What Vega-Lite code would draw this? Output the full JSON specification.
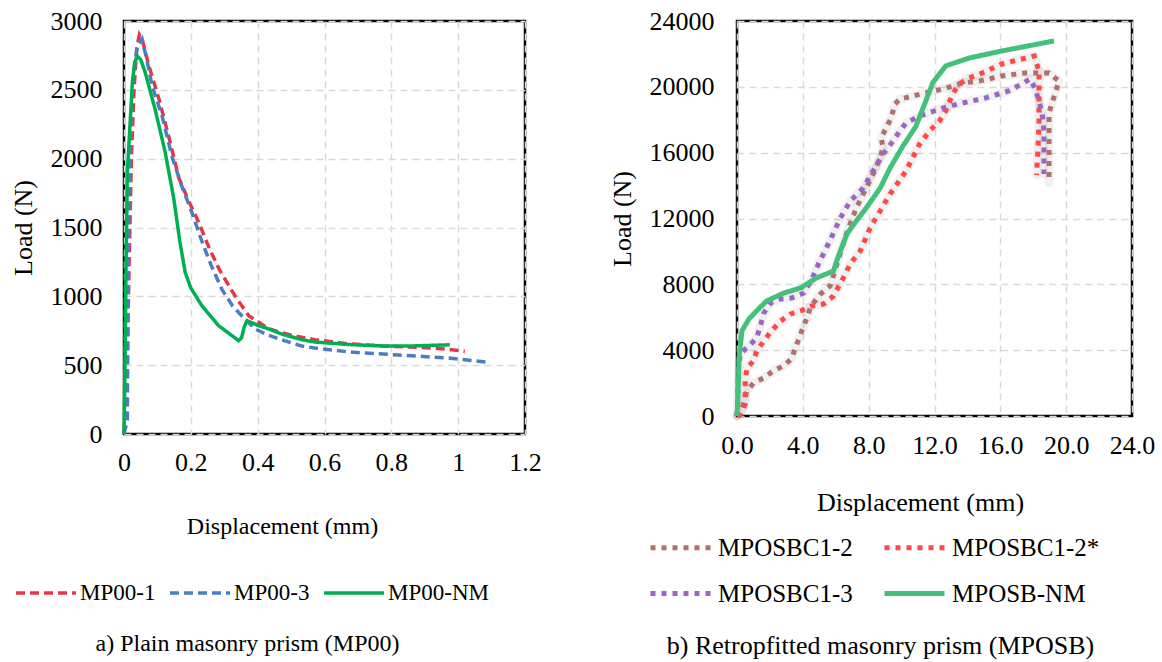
{
  "$schema": "https://vega.github.io/schema/vega-lite/v6.json",
  "background": "white",
  "padding": {"left": 8, "top": 6, "right": 5, "bottom": 2},
  "spacing": 64,
  "config": {
    "font": "Liberation Serif",
    "view": {"stroke": "black", "strokeWidth": 2.5},
    "axis": {
      "grid": true, "gridColor": "#D9D9D9", "gridDash": [7, 5], "gridWidth": 1.5,
      "domain": false, "ticks": false, "labelFlush": false, "labelOverlap": false,
      "labelFont": "Liberation Serif", "titleFont": "Liberation Serif",
      "labelColor": "black", "titleColor": "black",
      "labelFontSize": 26, "titleFontSize": 24, "titleFontWeight": "normal"
    },
    "legend": {"padding": 0, "labelFont": "Liberation Serif", "labelColor": "black", "labelLimit": 0},
    "title": {"font": "Liberation Serif", "fontWeight": "normal", "color": "black"}
  },
  "datasets": {
    "mp00": [
      {"s": "MP00-1", "i": 1, "x": 0, "y": 0},
      {"s": "MP00-1", "i": 2, "x": 0.008, "y": 300},
      {"s": "MP00-1", "i": 3, "x": 0.015, "y": 1200},
      {"s": "MP00-1", "i": 4, "x": 0.022, "y": 2000},
      {"s": "MP00-1", "i": 5, "x": 0.03, "y": 2500},
      {"s": "MP00-1", "i": 6, "x": 0.038, "y": 2800},
      {"s": "MP00-1", "i": 7, "x": 0.046, "y": 2900},
      {"s": "MP00-1", "i": 8, "x": 0.055, "y": 2860},
      {"s": "MP00-1", "i": 9, "x": 0.075, "y": 2670},
      {"s": "MP00-1", "i": 10, "x": 0.105, "y": 2430},
      {"s": "MP00-1", "i": 11, "x": 0.135, "y": 2150},
      {"s": "MP00-1", "i": 12, "x": 0.164, "y": 1860},
      {"s": "MP00-1", "i": 13, "x": 0.194, "y": 1690},
      {"s": "MP00-1", "i": 14, "x": 0.225, "y": 1530},
      {"s": "MP00-1", "i": 15, "x": 0.255, "y": 1350},
      {"s": "MP00-1", "i": 16, "x": 0.284, "y": 1200},
      {"s": "MP00-1", "i": 17, "x": 0.333, "y": 1000},
      {"s": "MP00-1", "i": 18, "x": 0.373, "y": 860},
      {"s": "MP00-1", "i": 19, "x": 0.433, "y": 765},
      {"s": "MP00-1", "i": 20, "x": 0.472, "y": 735},
      {"s": "MP00-1", "i": 21, "x": 0.512, "y": 712},
      {"s": "MP00-1", "i": 22, "x": 0.571, "y": 685},
      {"s": "MP00-1", "i": 23, "x": 0.672, "y": 655},
      {"s": "MP00-1", "i": 24, "x": 0.77, "y": 640},
      {"s": "MP00-1", "i": 25, "x": 0.92, "y": 625},
      {"s": "MP00-1", "i": 26, "x": 0.97, "y": 615},
      {"s": "MP00-1", "i": 27, "x": 1.02, "y": 600},
      {"s": "MP00-3", "i": 1, "x": 0, "y": 0},
      {"s": "MP00-3", "i": 2, "x": 0.01, "y": 100},
      {"s": "MP00-3", "i": 3, "x": 0.012, "y": 1000},
      {"s": "MP00-3", "i": 4, "x": 0.015, "y": 1800},
      {"s": "MP00-3", "i": 5, "x": 0.02, "y": 2250},
      {"s": "MP00-3", "i": 6, "x": 0.028, "y": 2600},
      {"s": "MP00-3", "i": 7, "x": 0.04, "y": 2820},
      {"s": "MP00-3", "i": 8, "x": 0.054, "y": 2870},
      {"s": "MP00-3", "i": 9, "x": 0.07, "y": 2700},
      {"s": "MP00-3", "i": 10, "x": 0.084, "y": 2530},
      {"s": "MP00-3", "i": 11, "x": 0.114, "y": 2310},
      {"s": "MP00-3", "i": 12, "x": 0.143, "y": 2020},
      {"s": "MP00-3", "i": 13, "x": 0.173, "y": 1800},
      {"s": "MP00-3", "i": 14, "x": 0.203, "y": 1610},
      {"s": "MP00-3", "i": 15, "x": 0.233, "y": 1400},
      {"s": "MP00-3", "i": 16, "x": 0.26, "y": 1230},
      {"s": "MP00-3", "i": 17, "x": 0.293, "y": 1050},
      {"s": "MP00-3", "i": 18, "x": 0.325, "y": 930},
      {"s": "MP00-3", "i": 19, "x": 0.353, "y": 857},
      {"s": "MP00-3", "i": 20, "x": 0.392, "y": 763},
      {"s": "MP00-3", "i": 21, "x": 0.43, "y": 720},
      {"s": "MP00-3", "i": 22, "x": 0.482, "y": 676},
      {"s": "MP00-3", "i": 23, "x": 0.532, "y": 639},
      {"s": "MP00-3", "i": 24, "x": 0.571, "y": 625},
      {"s": "MP00-3", "i": 25, "x": 0.672, "y": 596},
      {"s": "MP00-3", "i": 26, "x": 0.82, "y": 574},
      {"s": "MP00-3", "i": 27, "x": 0.97, "y": 552},
      {"s": "MP00-3", "i": 28, "x": 1.085, "y": 523},
      {"s": "MP00-NM", "i": 1, "x": 0, "y": 0},
      {"s": "MP00-NM", "i": 2, "x": 0.003, "y": 500},
      {"s": "MP00-NM", "i": 3, "x": 0.006, "y": 1200},
      {"s": "MP00-NM", "i": 4, "x": 0.01, "y": 1900},
      {"s": "MP00-NM", "i": 5, "x": 0.018, "y": 2250},
      {"s": "MP00-NM", "i": 6, "x": 0.025, "y": 2550},
      {"s": "MP00-NM", "i": 7, "x": 0.032, "y": 2700},
      {"s": "MP00-NM", "i": 8, "x": 0.04, "y": 2745},
      {"s": "MP00-NM", "i": 9, "x": 0.05, "y": 2720},
      {"s": "MP00-NM", "i": 10, "x": 0.063, "y": 2630},
      {"s": "MP00-NM", "i": 11, "x": 0.093, "y": 2360},
      {"s": "MP00-NM", "i": 12, "x": 0.123, "y": 2050},
      {"s": "MP00-NM", "i": 13, "x": 0.149, "y": 1710},
      {"s": "MP00-NM", "i": 14, "x": 0.167, "y": 1400},
      {"s": "MP00-NM", "i": 15, "x": 0.183, "y": 1175},
      {"s": "MP00-NM", "i": 16, "x": 0.2, "y": 1060},
      {"s": "MP00-NM", "i": 17, "x": 0.233, "y": 932},
      {"s": "MP00-NM", "i": 18, "x": 0.283, "y": 787},
      {"s": "MP00-NM", "i": 19, "x": 0.32, "y": 720},
      {"s": "MP00-NM", "i": 20, "x": 0.343, "y": 678},
      {"s": "MP00-NM", "i": 21, "x": 0.352, "y": 700},
      {"s": "MP00-NM", "i": 22, "x": 0.36, "y": 780},
      {"s": "MP00-NM", "i": 23, "x": 0.368, "y": 823},
      {"s": "MP00-NM", "i": 24, "x": 0.4, "y": 790},
      {"s": "MP00-NM", "i": 25, "x": 0.433, "y": 763},
      {"s": "MP00-NM", "i": 26, "x": 0.472, "y": 726},
      {"s": "MP00-NM", "i": 27, "x": 0.532, "y": 685},
      {"s": "MP00-NM", "i": 28, "x": 0.572, "y": 668},
      {"s": "MP00-NM", "i": 29, "x": 0.672, "y": 650},
      {"s": "MP00-NM", "i": 30, "x": 0.771, "y": 640},
      {"s": "MP00-NM", "i": 31, "x": 0.87, "y": 640},
      {"s": "MP00-NM", "i": 32, "x": 0.975, "y": 648}
    ],
    "mposb": [
      {"s": "MPOSBC1-2", "i": 1, "d": 0, "load": 0},
      {"s": "MPOSBC1-2", "i": 2, "d": 0.2, "load": 100},
      {"s": "MPOSBC1-2", "i": 3, "d": 0.6, "load": 1500},
      {"s": "MPOSBC1-2", "i": 4, "d": 1.0, "load": 2000},
      {"s": "MPOSBC1-2", "i": 5, "d": 1.6, "load": 2300},
      {"s": "MPOSBC1-2", "i": 6, "d": 2.2, "load": 2730},
      {"s": "MPOSBC1-2", "i": 7, "d": 2.8, "load": 3040},
      {"s": "MPOSBC1-2", "i": 8, "d": 3.3, "load": 3460},
      {"s": "MPOSBC1-2", "i": 9, "d": 3.55, "load": 4130},
      {"s": "MPOSBC1-2", "i": 10, "d": 3.86, "load": 4980},
      {"s": "MPOSBC1-2", "i": 11, "d": 4.17, "load": 5770},
      {"s": "MPOSBC1-2", "i": 12, "d": 4.5, "load": 6680},
      {"s": "MPOSBC1-2", "i": 13, "d": 5.07, "load": 7410},
      {"s": "MPOSBC1-2", "i": 14, "d": 5.66, "load": 7900},
      {"s": "MPOSBC1-2", "i": 15, "d": 6.26, "load": 9830},
      {"s": "MPOSBC1-2", "i": 16, "d": 6.64, "load": 11060},
      {"s": "MPOSBC1-2", "i": 17, "d": 7.25, "load": 12640},
      {"s": "MPOSBC1-2", "i": 18, "d": 7.85, "load": 13850},
      {"s": "MPOSBC1-2", "i": 19, "d": 8.45, "load": 15070},
      {"s": "MPOSBC1-2", "i": 20, "d": 8.88, "load": 16280},
      {"s": "MPOSBC1-2", "i": 21, "d": 8.76, "load": 16890},
      {"s": "MPOSBC1-2", "i": 22, "d": 9.06, "load": 17500},
      {"s": "MPOSBC1-2", "i": 23, "d": 9.36, "load": 18100},
      {"s": "MPOSBC1-2", "i": 24, "d": 9.6, "load": 18960},
      {"s": "MPOSBC1-2", "i": 25, "d": 9.9, "load": 19260},
      {"s": "MPOSBC1-2", "i": 26, "d": 10.7, "load": 19440},
      {"s": "MPOSBC1-2", "i": 27, "d": 11.3, "load": 19600},
      {"s": "MPOSBC1-2", "i": 28, "d": 12.5, "load": 19870},
      {"s": "MPOSBC1-2", "i": 29, "d": 13.7, "load": 20230},
      {"s": "MPOSBC1-2", "i": 30, "d": 14.7, "load": 20350},
      {"s": "MPOSBC1-2", "i": 31, "d": 16.1, "load": 20660},
      {"s": "MPOSBC1-2", "i": 32, "d": 17.5, "load": 20840},
      {"s": "MPOSBC1-2", "i": 33, "d": 18.96, "load": 20840},
      {"s": "MPOSBC1-2", "i": 34, "d": 19.56, "load": 20350},
      {"s": "MPOSBC1-2", "i": 35, "d": 19.35, "load": 19630},
      {"s": "MPOSBC1-2", "i": 36, "d": 19.14, "load": 19020},
      {"s": "MPOSBC1-2", "i": 37, "d": 18.96, "load": 18410},
      {"s": "MPOSBC1-2", "i": 38, "d": 18.96, "load": 17500},
      {"s": "MPOSBC1-2", "i": 39, "d": 18.96, "load": 16280},
      {"s": "MPOSBC1-2", "i": 40, "d": 18.96, "load": 15070},
      {"s": "MPOSBC1-2", "i": 41, "d": 18.96, "load": 14160},
      {"s": "MPOSBC1-2*", "i": 1, "d": 0, "load": 0},
      {"s": "MPOSBC1-2*", "i": 2, "d": 0.2, "load": 100},
      {"s": "MPOSBC1-2*", "i": 3, "d": 0.5, "load": 730},
      {"s": "MPOSBC1-2*", "i": 4, "d": 0.5, "load": 1340},
      {"s": "MPOSBC1-2*", "i": 5, "d": 0.5, "load": 2130},
      {"s": "MPOSBC1-2*", "i": 6, "d": 0.6, "load": 2920},
      {"s": "MPOSBC1-2*", "i": 7, "d": 1.0, "load": 3340},
      {"s": "MPOSBC1-2*", "i": 8, "d": 1.2, "load": 3950},
      {"s": "MPOSBC1-2*", "i": 9, "d": 1.63, "load": 4560},
      {"s": "MPOSBC1-2*", "i": 10, "d": 2.1, "load": 5170},
      {"s": "MPOSBC1-2*", "i": 11, "d": 2.65, "load": 5770},
      {"s": "MPOSBC1-2*", "i": 12, "d": 3.26, "load": 6200},
      {"s": "MPOSBC1-2*", "i": 13, "d": 3.86, "load": 6380},
      {"s": "MPOSBC1-2*", "i": 14, "d": 4.5, "load": 6680},
      {"s": "MPOSBC1-2*", "i": 15, "d": 5.25, "load": 6800},
      {"s": "MPOSBC1-2*", "i": 16, "d": 5.86, "load": 7290},
      {"s": "MPOSBC1-2*", "i": 17, "d": 6.46, "load": 8390},
      {"s": "MPOSBC1-2*", "i": 18, "d": 6.88, "load": 9240},
      {"s": "MPOSBC1-2*", "i": 19, "d": 7.49, "load": 10030},
      {"s": "MPOSBC1-2*", "i": 20, "d": 8.09, "load": 11420},
      {"s": "MPOSBC1-2*", "i": 21, "d": 9.3, "load": 13490},
      {"s": "MPOSBC1-2*", "i": 22, "d": 10.27, "load": 14890},
      {"s": "MPOSBC1-2*", "i": 23, "d": 11.1, "load": 16530},
      {"s": "MPOSBC1-2*", "i": 24, "d": 11.7, "load": 17320},
      {"s": "MPOSBC1-2*", "i": 25, "d": 12.3, "load": 17920},
      {"s": "MPOSBC1-2*", "i": 26, "d": 12.68, "load": 18530},
      {"s": "MPOSBC1-2*", "i": 27, "d": 13.1, "load": 19570},
      {"s": "MPOSBC1-2*", "i": 28, "d": 13.5, "load": 20170},
      {"s": "MPOSBC1-2*", "i": 29, "d": 14.1, "load": 20540},
      {"s": "MPOSBC1-2*", "i": 30, "d": 14.9, "load": 20840},
      {"s": "MPOSBC1-2*", "i": 31, "d": 16.1, "load": 21390},
      {"s": "MPOSBC1-2*", "i": 32, "d": 17.3, "load": 21690},
      {"s": "MPOSBC1-2*", "i": 33, "d": 18.06, "load": 21870},
      {"s": "MPOSBC1-2*", "i": 34, "d": 18.35, "load": 20960},
      {"s": "MPOSBC1-2*", "i": 35, "d": 18.35, "load": 19500},
      {"s": "MPOSBC1-2*", "i": 36, "d": 18.35, "load": 18000},
      {"s": "MPOSBC1-2*", "i": 37, "d": 18.3, "load": 16500},
      {"s": "MPOSBC1-2*", "i": 38, "d": 18.2, "load": 14640},
      {"s": "MPOSBC1-3", "i": 1, "d": 0, "load": 0},
      {"s": "MPOSBC1-3", "i": 2, "d": 0.1, "load": 3000},
      {"s": "MPOSBC1-3", "i": 3, "d": 0.2, "load": 3800},
      {"s": "MPOSBC1-3", "i": 4, "d": 0.72, "load": 4250},
      {"s": "MPOSBC1-3", "i": 5, "d": 1.2, "load": 4740},
      {"s": "MPOSBC1-3", "i": 6, "d": 1.45, "load": 5590},
      {"s": "MPOSBC1-3", "i": 7, "d": 1.63, "load": 6260},
      {"s": "MPOSBC1-3", "i": 8, "d": 2.05, "load": 6870},
      {"s": "MPOSBC1-3", "i": 9, "d": 2.65, "load": 7110},
      {"s": "MPOSBC1-3", "i": 10, "d": 3.3, "load": 7170},
      {"s": "MPOSBC1-3", "i": 11, "d": 4.05, "load": 7470},
      {"s": "MPOSBC1-3", "i": 12, "d": 4.5, "load": 8200},
      {"s": "MPOSBC1-3", "i": 13, "d": 4.95, "load": 9240},
      {"s": "MPOSBC1-3", "i": 14, "d": 5.66, "load": 10680},
      {"s": "MPOSBC1-3", "i": 15, "d": 6.28, "load": 12030},
      {"s": "MPOSBC1-3", "i": 16, "d": 6.88, "load": 13060},
      {"s": "MPOSBC1-3", "i": 17, "d": 7.67, "load": 13850},
      {"s": "MPOSBC1-3", "i": 18, "d": 8.27, "load": 14890},
      {"s": "MPOSBC1-3", "i": 19, "d": 8.88, "load": 15920},
      {"s": "MPOSBC1-3", "i": 20, "d": 9.48, "load": 16710},
      {"s": "MPOSBC1-3", "i": 21, "d": 9.9, "load": 17320},
      {"s": "MPOSBC1-3", "i": 22, "d": 10.27, "load": 17800},
      {"s": "MPOSBC1-3", "i": 23, "d": 11.1, "load": 18230},
      {"s": "MPOSBC1-3", "i": 24, "d": 12.5, "load": 18710},
      {"s": "MPOSBC1-3", "i": 25, "d": 13.7, "load": 19020},
      {"s": "MPOSBC1-3", "i": 26, "d": 15.1, "load": 19320},
      {"s": "MPOSBC1-3", "i": 27, "d": 16.5, "load": 19750},
      {"s": "MPOSBC1-3", "i": 28, "d": 17.3, "load": 20170},
      {"s": "MPOSBC1-3", "i": 29, "d": 17.8, "load": 20480},
      {"s": "MPOSBC1-3", "i": 30, "d": 18.1, "load": 19930},
      {"s": "MPOSBC1-3", "i": 31, "d": 18.35, "load": 19140},
      {"s": "MPOSBC1-3", "i": 32, "d": 18.55, "load": 18350},
      {"s": "MPOSBC1-3", "i": 33, "d": 18.65, "load": 17320},
      {"s": "MPOSBC1-3", "i": 34, "d": 18.65, "load": 15920},
      {"s": "MPOSBC1-3", "i": 35, "d": 18.65, "load": 14700},
      {"s": "MPOSB-NM", "i": 1, "d": 0, "load": 0},
      {"s": "MPOSB-NM", "i": 2, "d": 0.05, "load": 1000},
      {"s": "MPOSB-NM", "i": 3, "d": 0.1, "load": 2500},
      {"s": "MPOSB-NM", "i": 4, "d": 0.12, "load": 3520},
      {"s": "MPOSB-NM", "i": 5, "d": 0.3, "load": 5170},
      {"s": "MPOSB-NM", "i": 6, "d": 0.72, "load": 5890},
      {"s": "MPOSB-NM", "i": 7, "d": 1.3, "load": 6500},
      {"s": "MPOSB-NM", "i": 8, "d": 1.8, "load": 6990},
      {"s": "MPOSB-NM", "i": 9, "d": 2.84, "load": 7470},
      {"s": "MPOSB-NM", "i": 10, "d": 3.86, "load": 7780},
      {"s": "MPOSB-NM", "i": 11, "d": 4.83, "load": 8390},
      {"s": "MPOSB-NM", "i": 12, "d": 5.86, "load": 8810},
      {"s": "MPOSB-NM", "i": 13, "d": 6.06, "load": 9420},
      {"s": "MPOSB-NM", "i": 14, "d": 6.28, "load": 10030},
      {"s": "MPOSB-NM", "i": 15, "d": 6.7, "load": 11100},
      {"s": "MPOSB-NM", "i": 16, "d": 7.25, "load": 11850},
      {"s": "MPOSB-NM", "i": 17, "d": 7.85, "load": 12640},
      {"s": "MPOSB-NM", "i": 18, "d": 8.7, "load": 13850},
      {"s": "MPOSB-NM", "i": 19, "d": 9.3, "load": 15070},
      {"s": "MPOSB-NM", "i": 20, "d": 10.08, "load": 16400},
      {"s": "MPOSB-NM", "i": 21, "d": 10.87, "load": 17600},
      {"s": "MPOSB-NM", "i": 22, "d": 11.47, "load": 19140},
      {"s": "MPOSB-NM", "i": 23, "d": 11.9, "load": 20260},
      {"s": "MPOSB-NM", "i": 24, "d": 12.68, "load": 21270},
      {"s": "MPOSB-NM", "i": 25, "d": 14.1, "load": 21750},
      {"s": "MPOSB-NM", "i": 26, "d": 16.1, "load": 22180},
      {"s": "MPOSB-NM", "i": 27, "d": 19.26, "load": 22790}
    ]
  },
  "resolve": {
    "scale": {"color": "independent", "strokeDash": "independent", "strokeWidth": "independent"},
    "legend": {"color": "independent", "strokeDash": "independent"}
  },
  "hconcat": [
    {
      "width": 401,
      "height": 413,
      "data": {"name": "mp00"},
      "title": {"text": "a) Plain masonry prism (MP00)", "orient": "bottom", "fontSize": 24, "offset": 27, "dx": -77},
      "mark": {"type": "line", "strokeWidth": 3.5, "strokeCap": "butt"},
      "encoding": {
        "x": {
          "field": "x", "type": "quantitative",
          "scale": {"domain": [0, 1.2], "nice": false},
          "axis": {"values": [0, 0.2, 0.4, 0.6, 0.8, 1, 1.2], "format": "~g", "title": "Displacement (mm)", "titleFontSize": 24, "labelPadding": 15, "titlePadding": 39, "titleX": 158}
        },
        "y": {
          "field": "y", "type": "quantitative",
          "scale": {"domain": [0, 3000], "nice": false},
          "axis": {"values": [0, 500, 1000, 1500, 2000, 2500, 3000], "format": "d", "title": "Load (N)", "titleFontSize": 26, "labelPadding": 22, "titlePadding": 14}
        },
        "color": {
          "field": "s", "type": "nominal",
          "scale": {"domain": ["MP00-1", "MP00-3", "MP00-NM"], "range": ["#E8344A", "#4A7EC0", "#00B050"]},
          "legend": {"title": null, "orient": "none", "legendX": -110, "legendY": 560, "direction": "horizontal", "columns": 3, "columnPadding": 7, "symbolType": "M-1,0H5", "symbolSize": 400, "symbolStrokeWidth": 3.5, "labelFontSize": 23, "labelOffset": 42}
        },
        "strokeDash": {
          "field": "s", "type": "nominal",
          "scale": {"domain": ["MP00-1", "MP00-3", "MP00-NM"], "range": [[9, 5], [9, 5], [1, 0]]},
          "legend": {"title": null, "orient": "none", "legendX": -110, "legendY": 560, "direction": "horizontal", "columns": 3, "columnPadding": 7, "symbolType": "M-1,0H5", "symbolSize": 400, "symbolStrokeWidth": 3.5, "labelFontSize": 23, "labelOffset": 42}
        },
        "order": {"field": "i", "type": "quantitative"}
      }
    },
    {
      "width": 395,
      "height": 395,
      "data": {"name": "mposb"},
      "title": {"text": "b) Retropfitted masonry prism (MPOSB)", "orient": "bottom", "fontSize": 26, "offset": 26, "dx": -54},
      "encoding": {
        "x": {
          "field": "d", "type": "quantitative",
          "scale": {"domain": [0, 24], "nice": false},
          "axis": {"values": [0, 4, 8, 12, 16, 20, 24], "format": ".1f", "title": "Displacement (mm)", "titleFontSize": 26, "labelPadding": 16, "titlePadding": 31, "titleX": 183}
        },
        "y": {
          "field": "load", "type": "quantitative",
          "scale": {"domain": [0, 24000], "nice": false},
          "axis": {"values": [0, 4000, 8000, 12000, 16000, 20000, 24000], "format": "d", "title": "Load (N)", "titleFontSize": 26, "labelPadding": 23, "titlePadding": 14}
        },
        "order": {"field": "i", "type": "quantitative"}
      },
      "layer": [
        {
          "transform": [{"filter": "datum.s !== 'MPOSB-NM'"}],
          "mark": {"type": "line", "strokeCap": "round", "strokeJoin": "round", "strokeWidth": 9, "color": "#000000", "opacity": 0.055},
          "encoding": {"detail": {"field": "s", "type": "nominal"}}
        },
        {
          "mark": {"type": "line", "strokeCap": "butt"},
          "encoding": {
            "color": {
              "field": "s", "type": "nominal",
              "scale": {"domain": ["MPOSBC1-2", "MPOSBC1-2*", "MPOSBC1-3", "MPOSB-NM"], "range": ["#B0706C", "#FF4848", "#9966C6", "#45C07A"]},
              "legend": {"title": null, "orient": "none", "legendX": -89, "legendY": 514, "direction": "horizontal", "columns": 2, "columnPadding": 21, "rowPadding": 20, "symbolType": "M-1,0H5", "symbolSize": 400, "symbolStrokeWidth": 5, "labelFontSize": 25, "labelOffset": 45}
            },
            "strokeDash": {
              "field": "s", "type": "nominal",
              "scale": {"domain": ["MPOSBC1-2", "MPOSBC1-2*", "MPOSBC1-3", "MPOSB-NM"], "range": [[5, 6], [5, 6], [5, 6], [1, 0]]},
              "legend": {"title": null, "orient": "none", "legendX": -89, "legendY": 514, "direction": "horizontal", "columns": 2, "columnPadding": 21, "rowPadding": 20, "symbolType": "M-1,0H5", "symbolSize": 400, "symbolStrokeWidth": 5, "labelFontSize": 25, "labelOffset": 45}
            },
            "strokeWidth": {
              "field": "s", "type": "nominal",
              "scale": {"domain": ["MPOSBC1-2", "MPOSBC1-2*", "MPOSBC1-3", "MPOSB-NM"], "range": [5, 5, 5, 3.2]},
              "legend": null
            }
          }
        }
      ]
    }
  ]
}
